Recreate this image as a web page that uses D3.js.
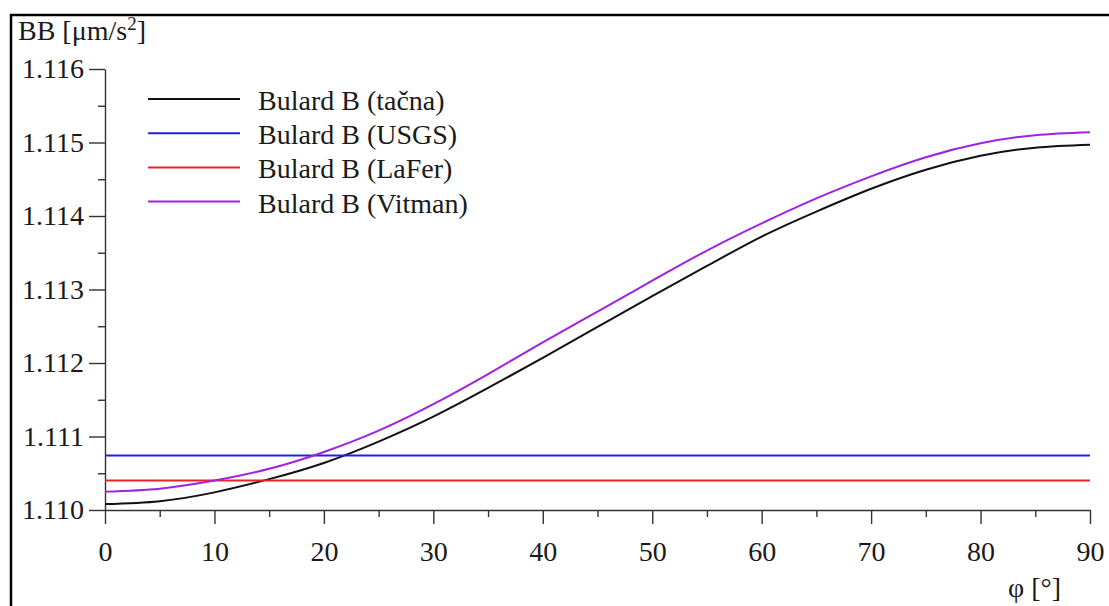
<!DOCTYPE html>
<html lang="en">
  <head>
    <script src="https://d3js.org/d3.v7.min.js"></script>
    <style>
      body {
        margin: 0;
        background: #fff;
      }
    </style>
  </head>
  <body>
    <script>
      // latitude values (degrees)
      var phi = [0, 5, 10, 15, 20, 25, 30, 35, 40, 45, 50, 55, 60, 65, 70, 75, 80, 85, 90];

      // Bulard B curves
      var tacna = [
        1.11008, 1.11012, 1.11024, 1.11042, 1.11064, 1.11093, 1.11127, 1.11166,
        1.11207, 1.11249, 1.11291, 1.11332, 1.11372, 1.11406, 1.11437, 1.11463,
        1.11482, 1.11493, 1.11497,
      ];
      var vitman = [
        1.11025, 1.11029, 1.1104, 1.11056, 1.11079, 1.11108, 1.11144, 1.11185,
        1.11228, 1.1127, 1.11312, 1.11353, 1.1139, 1.11424, 1.11454, 1.1148,
        1.11499, 1.1151, 1.11514,
      ];
      // constant values, drawn across the whole range
      var constPhi = [0, 90];
      var usgs = [1.11074, 1.11074];
      var lafer = [1.1104, 1.1104];

      var legendNames = [
        "Bulard B (tačna)",
        "Bulard B (USGS)",
        "Bulard B (LaFer)",
        "Bulard B (Vitman)",
      ];
      var colors = ["#111111", "#2222dd", "#ee2222", "#a020e6"];

      var xMajor = [0, 10, 20, 30, 40, 50, 60, 70, 80, 90];
      var xMinor = [5, 15, 25, 35, 45, 55, 65, 75, 85];
      var yMajor = [1.11, 1.111, 1.112, 1.113, 1.114, 1.115, 1.116];
      var yMinor = [1.1105, 1.1115, 1.1125, 1.1135, 1.1145, 1.1155];

      var font =
        "'Times New Roman', Times, 'Liberation Serif', 'Nimbus Roman', Tinos, 'DejaVu Serif', serif";

      var width = 1109,
        height = 606;

      var svg = d3
        .select("body")
        .append("svg")
        .attr("width", width)
        .attr("height", height)
        .attr("font-family", font);

      // frame round the picture
      svg
        .append("rect")
        .attr("x", 11)
        .attr("y", 15)
        .attr("width", 1130)
        .attr("height", 640)
        .attr("fill", "none")
        .attr("stroke", "#000")
        .attr("stroke-width", 2.5);

      var x = d3.scaleLinear().domain([0, 90]).range([105, 1090]);
      var y = d3.scaleLinear().domain([1.11, 1.116]).range([510, 69]);

      // axes (major + minor ticks)
      svg
        .append("g")
        .attr("transform", "translate(0," + y(1.11) + ")")
        .call(
          d3
            .axisBottom(x)
            .tickValues(xMajor)
            .tickSize(14)
            .tickPadding(17)
            .tickSizeOuter(0)
        );
      svg
        .append("g")
        .attr("transform", "translate(0," + y(1.11) + ")")
        .call(
          d3
            .axisBottom(x)
            .tickValues(xMinor)
            .tickSize(7)
            .tickSizeOuter(0)
            .tickFormat("")
        )
        .select(".domain")
        .remove();

      svg
        .append("g")
        .attr("transform", "translate(" + x(0) + ",0)")
        .call(
          d3
            .axisLeft(y)
            .tickValues(yMajor)
            .tickSize(16)
            .tickPadding(5)
            .tickSizeOuter(0)
            .tickFormat(d3.format(".3f"))
        );
      svg
        .append("g")
        .attr("transform", "translate(" + x(0) + ",0)")
        .call(
          d3
            .axisLeft(y)
            .tickValues(yMinor)
            .tickSize(7)
            .tickSizeOuter(0)
            .tickFormat("")
        )
        .select(".domain")
        .remove();

      svg.selectAll("g").attr("font-family", font);
      svg.selectAll(".tick line, .domain").attr("stroke", "#333").attr("stroke-width", 1.4);
      svg
        .selectAll(".tick text")
        .attr("font-size", 28)
        .attr("fill", "#1a1a1a");

      // axis titles
      var yTitle = svg
        .append("text")
        .attr("x", 18)
        .attr("y", 40)
        .attr("font-size", 28)
        .attr("fill", "#1a1a1a");
      yTitle.append("tspan").text("BB [μm/s");
      yTitle.append("tspan").attr("font-size", 19).attr("dy", -10).text("2");
      yTitle.append("tspan").attr("dy", 10).text("]");

      svg
        .append("text")
        .attr("x", 1008)
        .attr("y", 597)
        .attr("font-size", 28)
        .attr("fill", "#1a1a1a")
        .text("φ [°]");

      // curves
      var line = d3
        .line()
        .x(function (d) {
          return x(d[0]);
        })
        .y(function (d) {
          return y(d[1]);
        })
        .curve(d3.curveNatural);

      var series = [
        d3.zip(phi, tacna),
        d3.zip(constPhi, usgs),
        d3.zip(constPhi, lafer),
        d3.zip(phi, vitman),
      ];

      svg
        .selectAll(".curve")
        .data(series)
        .join("path")
        .attr("class", "curve")
        .attr("d", line)
        .attr("fill", "none")
        .attr("stroke", function (d, i) {
          return colors[i];
        })
        .attr("stroke-width", 2);

      // legend
      var legend = svg
        .selectAll(".legend")
        .data(legendNames)
        .join("g")
        .attr("class", "legend")
        .attr("transform", function (d, i) {
          return "translate(0," + (99 + i * 34.2) + ")";
        });
      legend
        .append("line")
        .attr("x1", 148)
        .attr("x2", 240)
        .attr("stroke", function (d, i) {
          return colors[i];
        })
        .attr("stroke-width", 2);
      legend
        .append("text")
        .attr("x", 258)
        .attr("y", 11)
        .attr("font-size", 28)
        .attr("fill", "#1a1a1a")
        .text(function (d) {
          return d;
        });
    </script>
  </body>
</html>
